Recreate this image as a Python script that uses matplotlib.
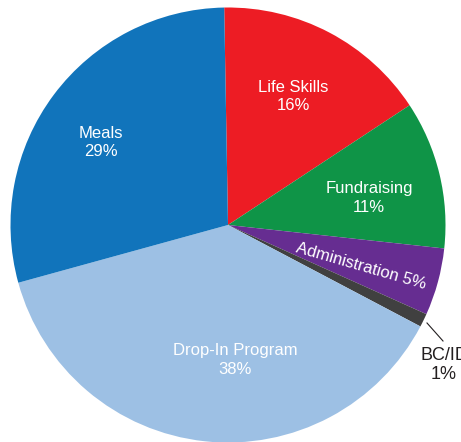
import matplotlib
matplotlib.use("Agg")
import matplotlib.pyplot as plt

plt.rcParams['font.family'] = ['Liberation Sans', 'DejaVu Sans']

# slices, clockwise from 12 o'clock
labels = ["Life Skills", "Fundraising", "Administration", "BC/ID", "Drop-In Program", "Meals"]
values = [16, 11, 5, 1, 38, 29]
colors = ["#ED1C24", "#0F9447", "#662D91", "#404040", "#9DC0E4", "#1174BB"]

W, H = 461, 442
cx, cy, R = 228, H - 225, 217.5

fig = plt.figure(figsize=(W / 100, H / 100), dpi=100)
ax = fig.add_axes([0, 0, 1, 1])
ax.pie(values, colors=colors, startangle=91, counterclock=False,
       center=(cx, cy), radius=R, frame=True,
       wedgeprops=dict(linewidth=0))
ax.set_xlim(0, W)
ax.set_ylim(0, H)
ax.set_aspect("equal")
ax.axis("off")

fs = 12
# label positions (pixel coords, y from top)
ax.text(293, H - 97, f"{labels[0]}\n{values[0]}%", color="white", fontsize=fs,
        ha="center", va="center", linespacing=1.25)
ax.text(369, H - 198, f"{labels[1]}\n{values[1]}%", color="white", fontsize=fs,
        ha="center", va="center", linespacing=1.25)
ax.text(361, H - 266, f"{labels[2]} {values[2]}%", color="white", fontsize=fs,
        ha="center", va="center", rotation=-16, rotation_mode="anchor")
ax.text(235, H - 360, f"{labels[4]}\n{values[4]}%", color="white", fontsize=fs,
        ha="center", va="center", linespacing=1.25)
ax.text(101, H - 142, f"{labels[5]}\n{values[5]}%", color="white", fontsize=fs,
        ha="center", va="center", linespacing=1.25)

# BC/ID outside with leader line
ax.plot([427, 443], [H - 323, H - 341], color="#231F20", linewidth=0.8)
ax.text(444, H - 365, f"{labels[3]}\n{values[3]}%", color="#231F20", fontsize=13,
        ha="center", va="center", linespacing=1.15, clip_on=False)

fig.savefig("out.png", dpi=100)
